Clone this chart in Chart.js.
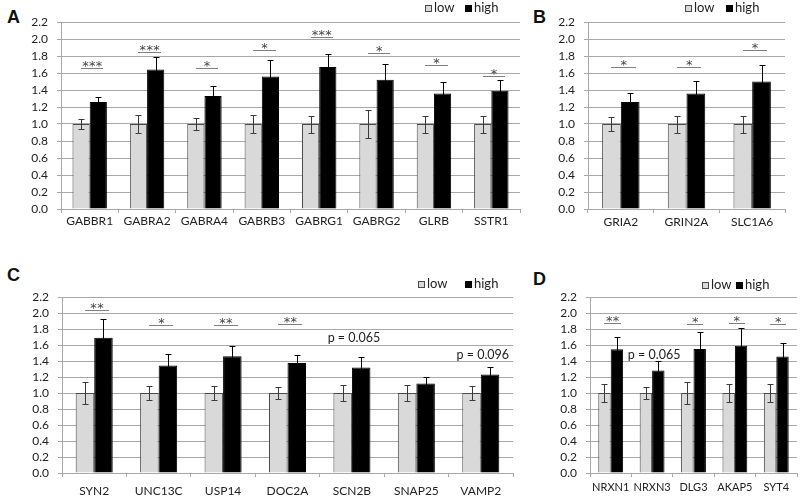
<!DOCTYPE html>
<html><head><meta charset="utf-8">
<script src="https://cdn.jsdelivr.net/npm/chart.js@4.4.1/dist/chart.umd.min.js"></script>
<style>
body{margin:0;width:800px;height:496px;background:#fff;position:relative;overflow:hidden;font-family:Lato,sans-serif}
canvas{position:absolute}
.lbl{position:absolute;font:bold 18px "Liberation Sans",Arial,sans-serif;line-height:18px;color:#111}
</style></head><body>
<div class="lbl" style="left:7px;top:8px">A</div>
<div class="lbl" style="left:533px;top:8px">B</div>
<div class="lbl" style="left:7px;top:266px">C</div>
<div class="lbl" style="left:533px;top:270px">D</div>
<canvas id="cA" width="530" height="245" style="left:0;top:0"></canvas>
<canvas id="cB" width="270" height="245" style="left:530px;top:0"></canvas>
<canvas id="cC" width="530" height="246" style="left:0;top:250px"></canvas>
<canvas id="cD" width="270" height="246" style="left:530px;top:250px"></canvas>
<script>
// ---- data ----
const seriesNames = ['low', 'high'];
const yTicks = [0.0, 0.2, 0.4, 0.6, 0.8, 1.0, 1.2, 1.4, 1.6, 1.8, 2.0, 2.2];

const catsA = ['GABBR1','GABRA2','GABRA4','GABRB3','GABRG1','GABRG2','GLRB','SSTR1'];
const lowA = [1.0,1.0,1.0,1.0,1.0,1.0,1.0,1.0];
const lowErrA = [0.06,0.11,0.07,0.11,0.10,0.17,0.10,0.10];
const highA = [1.26,1.64,1.33,1.56,1.67,1.52,1.36,1.39];
const highErrA = [0.06,0.15,0.12,0.19,0.15,0.19,0.13,0.13];
const sigA = ['***','***','*','*','***','*','*','*'];
const sigLevelA = [1.66,1.85,1.66,1.87,2.02,1.83,1.69,1.56];

const catsB = ['GRIA2','GRIN2A','SLC1A6'];
const lowB = [1.0,1.0,1.0];
const lowErrB = [0.08,0.10,0.10];
const highB = [1.26,1.36,1.50];
const highErrB = [0.11,0.15,0.20];
const sigB = ['*','*','*'];
const sigLevelB = [1.67,1.67,1.875];

const catsC = ['SYN2','UNC13C','USP14','DOC2A','SCN2B','SNAP25','VAMP2'];
const lowC = [1.0,1.0,1.0,1.0,1.0,1.0,1.0];
const lowErrC = [0.14,0.09,0.09,0.08,0.10,0.10,0.09];
const highC = [1.69,1.345,1.46,1.375,1.32,1.12,1.23];
const highErrC = [0.23,0.145,0.13,0.105,0.13,0.08,0.10];
const sigC = ['**','*','**','**','p = 0.065','','p = 0.096'];
const sigLevelC = [2.04,1.85,1.85,1.86,1.69,0,1.48];

const catsD = ['NRXN1','NRXN3','DLG3','AKAP5','SYT4'];
const lowD = [1.0,1.0,1.0,1.0,1.0];
const lowErrD = [0.11,0.08,0.14,0.11,0.11];
const highD = [1.546,1.28,1.55,1.59,1.455];
const highErrD = [0.155,0.125,0.21,0.22,0.165];
const sigD = ['**','p = 0.065','*','*','*'];
const sigLevelD = [1.87,1.48,1.86,1.88,1.86];

// ---- plugins ----
const errorBars = {
  id: 'errorBars',
  afterDatasetsDraw(chart) {
    const ctx = chart.ctx, ys = chart.scales.y;
    chart.data.datasets.forEach((ds, di) => {
      const meta = chart.getDatasetMeta(di);
      meta.data.forEach((bar, i) => {
        const v = ds.data[i], e = ds.errors[i];
        const yt = Math.round(ys.getPixelForValue(v + e)) + 0.5;
        const yb = Math.round(ys.getPixelForValue(v - e)) + 0.5;
        const x = Math.round(bar.x) + 0.5;
        ctx.save();
        ctx.strokeStyle = ds.errColor; ctx.lineWidth = 1;
        ctx.beginPath();
        ctx.moveTo(x, yt); ctx.lineTo(x, yb);
        ctx.moveTo(x - 3, yt); ctx.lineTo(x + 3, yt);
        ctx.moveTo(x - 3, yb); ctx.lineTo(x + 3, yb);
        ctx.stroke();
        ctx.restore();
      });
    });
  }
};

const sigMarks = {
  id: 'sigMarks',
  afterDraw(chart, args, o) {
    const ctx = chart.ctx, xs = chart.scales.x, ys = chart.scales.y;
    const m0 = chart.getDatasetMeta(0), m1 = chart.getDatasetMeta(1);
    ctx.save();
    o.marks.forEach((t, i) => {
      if (!t) return;
      const yy = ys.getPixelForValue(o.levels[i]);
      if (t.startsWith('p')) {
        ctx.fillStyle = '#222';
        ctx.font = '12.5px Lato';
        ctx.textAlign = 'center'; ctx.textBaseline = 'middle';
        ctx.fillText(t, xs.getPixelForValue(i) + 2, yy);
      } else {
        const b0 = m0.data[i], b1 = m1.data[i];
        const x0 = b0.x, x1 = b1.x + b1.width * 0.3;
        const ly = Math.round(yy) + 0.5;
        ctx.strokeStyle = '#808080'; ctx.lineWidth = 1;
        ctx.beginPath(); ctx.moveTo(Math.round(x0), ly); ctx.lineTo(Math.round(x1), ly); ctx.stroke();
        ctx.fillStyle = '#444';
        ctx.font = '13px "DejaVu Sans"';
        ctx.textAlign = 'center'; ctx.textBaseline = 'alphabetic';
        const cx = (x0 + x1) / 2, n = t.length, pitch = 6.8;
        for (let k = 0; k < n; k++) {
          ctx.fillText('*', cx + (k - (n - 1) / 2) * pitch, ly + 1.5);
        }
      }
    });
    ctx.restore();
  }
};

const boxLegend = {
  id: 'boxLegend',
  afterDraw(chart, args, o) {
    const ctx = chart.ctx;
    ctx.save();
    ctx.font = '13px Lato';
    ctx.textBaseline = 'middle'; ctx.textAlign = 'left';
    chart.data.datasets.forEach((ds, i) => {
      const bx = o.x[i], y = o.y;
      ctx.fillStyle = ds.backgroundColor;
      ctx.fillRect(bx, y - 3, 6, 6);
      ctx.strokeStyle = ds.borderColor; ctx.lineWidth = 1;
      ctx.strokeRect(bx + 0.5, y - 3 + 0.5, 6, 6);
      ctx.fillStyle = '#222';
      ctx.fillText(ds.label, bx + 9, y);
    });
    ctx.restore();
  }
};

function panel(id, cats, low, lowErr, high, highErr, sig, sigLevel, cfg) {
  return new Chart(document.getElementById(id), {
    type: 'bar',
    data: {
      labels: cats,
      datasets: [
        { label: seriesNames[0], data: low, errors: lowErr, errColor: '#3a3a3a',
          backgroundColor: '#d9d9d9', borderColor: '#4a4a4a', borderWidth: 1,
          categoryPercentage: cfg.cp, barPercentage: 1.0 },
        { label: seriesNames[1], data: high, errors: highErr, errColor: '#000',
          backgroundColor: '#000', borderColor: '#000', borderWidth: 1,
          categoryPercentage: cfg.cp, barPercentage: 1.0 }
      ]
    },
    options: {
      responsive: false, animation: false, events: [],
      layout: { padding: cfg.pad },
      plugins: {
        legend: { display: false }, tooltip: { enabled: false },
        sigMarks: { marks: sig, levels: sigLevel },
        boxLegend: { x: cfg.legX, y: cfg.legY }
      },
      scales: {
        y: {
          min: 0, max: 2.2,
          afterBuildTicks: s => { s.ticks = yTicks.map(v => ({ value: v })); },
          ticks: { callback: v => Number(v).toFixed(1), padding: 9, color: '#222', autoSkip: false,
                   font: { family: 'Lato', size: 12 } },
          grid: { color: '#a8a8a8', tickLength: 4, lineWidth: 1 },
          border: { color: '#a8a8a8' },
          afterFit: s => { s.width = cfg.yW; }
        },
        x: {
          ticks: { color: '#222', padding: cfg.xPad, maxRotation: 0, autoSkip: false,
                   font: { family: 'Lato', size: cfg.xFont } },
          grid: { drawOnChartArea: false, color: '#a8a8a8', tickLength: 4, offset: true },
          border: { color: '#a8a8a8' },
          afterFit: s => { s.height = cfg.xH; }
        }
      }
    },
    plugins: [errorBars, sigMarks, boxLegend]
  });
}

panel('cA', catsA, lowA, lowErrA, highA, highErrA, sigA, sigLevelA,
  { cp: 0.6, pad: { top: 22, right: 10, left: 0, bottom: 0 }, yW: 61, xH: 36, xPad: 1, xFont: 12, legX: [425, 465], legY: 8 });
panel('cB', catsB, lowB, lowErrB, highB, highErrB, sigB, sigLevelB,
  { cp: 0.57, pad: { top: 22, right: 15, left: 0, bottom: 0 }, yW: 58, xH: 36, xPad: 2, xFont: 12, legX: [155, 196], legY: 8 });
panel('cC', catsC, lowC, lowErrC, highC, highErrC, sigC, sigLevelC,
  { cp: 0.575, pad: { top: 47, right: 17, left: 0, bottom: 0 }, yW: 62, xH: 23, xPad: 7, xFont: 12, legX: [418, 465], legY: 34 });
panel('cD', catsD, lowD, lowErrD, highD, highErrD, sigD, sigLevelD,
  { cp: 0.6, pad: { top: 47, right: 3, left: 0, bottom: 0 }, yW: 60, xH: 23, xPad: 4, xFont: 11, legX: [172, 206], legY: 35 });
</script>
</body></html>
